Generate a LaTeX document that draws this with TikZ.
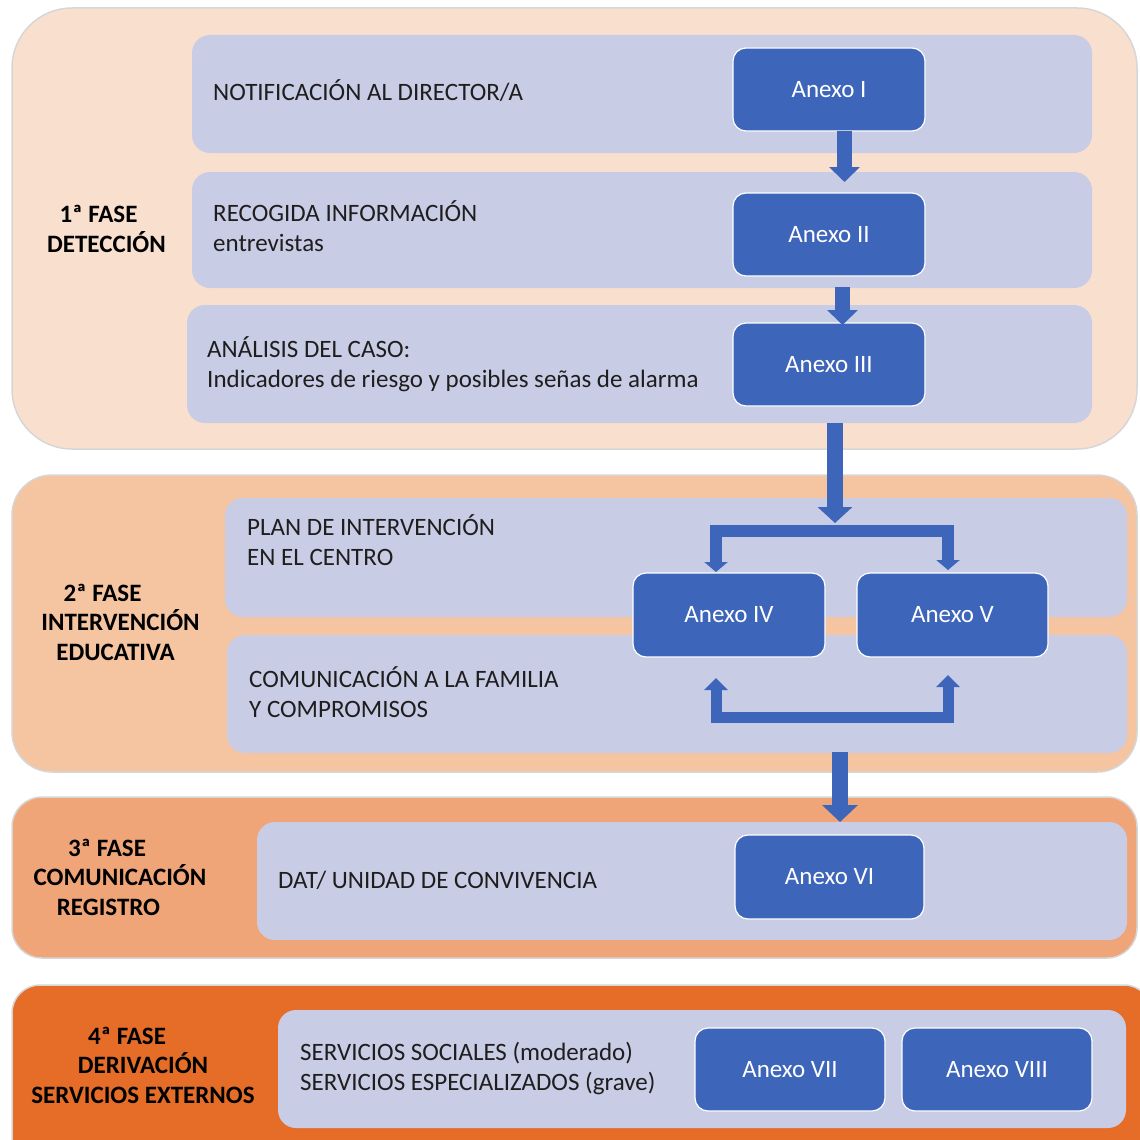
\documentclass[tikz,border=0pt]{standalone}
\usepackage{fontspec}
\setmainfont{Carlito}
\usetikzlibrary{arrows.meta,calc}
\definecolor{pA}{HTML}{F9E0CE}
\definecolor{pB}{HTML}{F5C4A0}
\definecolor{pC}{HTML}{EFA577}
\definecolor{pD}{HTML}{E56D28}
\definecolor{lav}{HTML}{C8CCE5}
\definecolor{anx}{HTML}{3D65BA}
\definecolor{txt}{HTML}{1E1E1E}
\begin{document}
\begin{tikzpicture}[x=1pt,y=-1pt,
 panel/.style={anchor=north west, draw=black!16, line width=1.5pt, inner sep=0pt, outer sep=0pt},
 lavbox/.style={anchor=north west, fill=lav, rounded corners=18pt, inner sep=0pt, outer sep=0pt},
 anexo/.style={anchor=north west, fill=anx, draw=white, line width=1.2pt, rounded corners=13pt, inner sep=0pt, outer sep=0pt, text=white, font=\fontsize{25}{30}\selectfont},
 lbl/.style={anchor=base west, align=left, inner sep=0pt, text=txt, font=\fontsize{25}{30}\selectfont},
 phase/.style={anchor=base, align=center, inner sep=0pt, text=black, font=\fontsize{25}{29.5}\selectfont\bfseries},
 barrow/.style={draw=anx, line cap=butt, line join=miter},
]
\useasboundingbox (0,0) rectangle (1140,1140);
\clip (0,0) rectangle (1140,1140);

% phase panels
\node[panel, fill=pA, rounded corners=60pt, minimum width=1125pt, minimum height=441pt] (p1) at (12,8) {};
\node[panel, fill=pB, rounded corners=40pt, minimum width=1125pt, minimum height=297pt] (p2) at (12,475) {};
\node[panel, fill=pC, rounded corners=30pt, minimum width=1125pt, minimum height=161pt] (p3) at (12,797) {};
\node[panel, fill=pD, rounded corners=28pt, minimum width=1140pt, minimum height=180pt] (p4) at (12,985) {};

% inner boxes
\node[lavbox, minimum width=900pt, minimum height=118pt] (b1a) at (192,35) {};
\node[lavbox, minimum width=900pt, minimum height=116pt] (b1b) at (192,172) {};
\node[lavbox, minimum width=905pt, minimum height=118pt] (b1c) at (187,305) {};
\node[lavbox, minimum width=902pt, minimum height=119pt] (b2a) at (225,498) {};
\node[lavbox, minimum width=900pt, minimum height=118pt] (b2b) at (227,635) {};
\node[lavbox, minimum width=870pt, minimum height=118pt] (b3) at (257,822) {};
\node[lavbox, minimum width=848pt, minimum height=118pt] (b4) at (278,1010) {};

% texts (anchor = baseline of the last line)
\node[lbl] (t1a) at (213,100.5) {NOTIFICACIÓN AL DIRECTOR/A};
\node[lbl] (t1b) at (213,251) {RECOGIDA INFORMACIÓN\\entrevistas};
\node[lbl] (t1c) at (207,387) {ANÁLISIS DEL CASO:\\Indicadores de riesgo y posibles señas de alarma};
\node[lbl] (t2a) at (247,565) {PLAN DE INTERVENCIÓN\\EN EL CENTRO};
\node[lbl] (t2b) at (249,717) {COMUNICACIÓN A LA FAMILIA\\Y COMPROMISOS};
\node[lbl] (t3) at (278,888) {DAT/ UNIDAD DE CONVIVENCIA};
\node[lbl] (t4) at (300,1090) {SERVICIOS SOCIALES (moderado)\\SERVICIOS ESPECIALIZADOS (grave)};

% phase labels
\node[phase] (f1) at (106.5,252) {1ª FASE\hspace*{16pt}\\DETECCIÓN};
\node[phase] (f2) at (120.5,660) {2ª FASE\hspace*{36pt}\\INTERVENCIÓN\\EDUCATIVA\hspace*{10pt}};
\node[phase] (f3) at (120,915) {3ª FASE\hspace*{26pt}\\COMUNICACIÓN\\REGISTRO\hspace*{23pt}};
\node[phase] (f4) at (143,1103) {4ª FASE\hspace*{32pt}\\DERIVACIÓN\hspace*{26pt}\\SERVICIOS EXTERNOS};

% anexo boxes
\node[anexo, minimum width=192pt, minimum height=83pt] (aI) at (733,48) {Anexo I};
\node[anexo, minimum width=192pt, minimum height=83pt] (aII) at (733,193) {Anexo II};
\node[anexo, minimum width=192pt, minimum height=83pt] (aIII) at (733,323) {Anexo III};
\node[anexo, minimum width=192pt, minimum height=84pt] (aIV) at (633,573) {Anexo IV};
\node[anexo, minimum width=191pt, minimum height=84pt] (aV) at (857,573) {Anexo V};
\node[anexo, minimum width=189pt, minimum height=84pt] (aVI) at (735,835) {Anexo VI};
\node[anexo, minimum width=190pt, minimum height=83pt] (aVII) at (695,1028) {Anexo VII};
\node[anexo, minimum width=190pt, minimum height=83pt] (aVIII) at (902,1028) {Anexo VIII};

% connector coordinates
\coordinate (sp) at (835,523);
\coordinate (l1) at (716,572);
\coordinate (l0) at (716,531);
\coordinate (r0) at (948,531);
\coordinate (r1) at (948,570);
\coordinate (bl1) at (716,678);
\coordinate (bl0) at (716,717);
\coordinate (br0) at (948,717);
\coordinate (br1) at (948,675);
\coordinate (d0) at (840,752);
\coordinate (d1) at (840,822);

% arrows
\draw[barrow, line width=15pt, -{Triangle[width=30pt,length=15pt]}] ($(aI.south)+(15.5,0)$) -- ($(aII.north)+(15.5,-11)$);
\draw[barrow, line width=15pt, -{Triangle[width=30pt,length=15pt]}] ($(aII.south)+(13.5,11)$) -- ($(aIII.north)+(13.5,2)$);
\draw[barrow, line width=16pt, -{Triangle[width=34pt,length=16pt]}] ($(aIII.south)+(6,17)$) -- (sp);
\draw[barrow, line width=12pt, {Triangle[width=23pt,length=10pt]}-{Triangle[width=23pt,length=10pt]}] (l1) -- (l0) -- (r0) -- (r1);
\draw[barrow, line width=11pt, {Triangle[width=23pt,length=12pt]}-{Triangle[width=23pt,length=12pt]}] (bl1) -- (bl0) -- (br0) -- (br1);
\draw[barrow, line width=16pt, -{Triangle[width=35pt,length=17pt]}] (d0) -- (d1);
\end{tikzpicture}
\end{document}
